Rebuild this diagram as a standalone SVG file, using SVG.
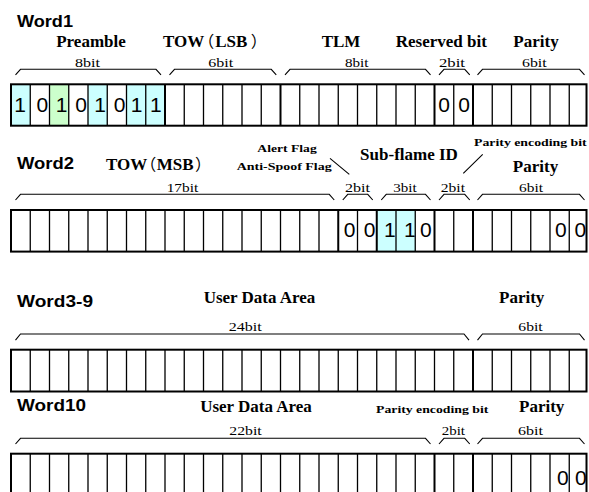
<svg xmlns="http://www.w3.org/2000/svg" width="589" height="492" viewBox="0 0 589 492">
<defs>
<style>
.w{font-family:"Liberation Sans",Arial,sans-serif;font-weight:bold;font-size:17px;fill:#000}
.t{font-family:"Liberation Serif","Noto Sans CJK JP",serif;font-weight:bold;font-size:17px;fill:#000}
.p{font-family:"Noto Sans CJK JP",sans-serif;font-weight:normal;font-size:16px;font-feature-settings:"palt";fill:#000}
.s{font-family:"Liberation Serif",serif;font-weight:bold;font-size:11px;fill:#000}
.b{font-family:"Liberation Serif",serif;font-size:13.5px;fill:#000}
.d{font-family:"Liberation Sans",Arial,sans-serif;font-size:21px;fill:#000;text-anchor:middle}
.m{text-anchor:middle}
.box{fill:none;stroke:#000;stroke-width:2}
.thin{fill:none;stroke:#000;stroke-width:1.3}
.thick{fill:none;stroke:#000;stroke-width:2}
.br{fill:none;stroke:#000;stroke-width:1.1}
.cy{fill:#ccffff}
.gr{fill:#ccffcc}
</style>
</defs>
<rect width="589" height="492" fill="#fff"/>

<g id="word1">
<text class="w" x="17" y="27" textLength="56" lengthAdjust="spacingAndGlyphs">Word1</text>
<text class="t m" x="91" y="47">Preamble</text>
<text class="t" x="163" y="47">TOW<tspan class="p" dx="1.5">（</tspan><tspan dx="1.5">LSB</tspan><tspan class="p" dx="4">）</tspan></text>
<text class="t m" x="341" y="47">TLM</text>
<text class="t m" x="441.3" y="47">Reserved bit</text>
<text class="t m" x="536" y="47">Parity</text>
<text class="b" x="75" y="66.5" textLength="25" lengthAdjust="spacingAndGlyphs">8bit</text>
<text class="b" x="208.3" y="66.5" textLength="25" lengthAdjust="spacingAndGlyphs">6bit</text>
<text class="b" x="345" y="66.5" textLength="23.5" lengthAdjust="spacingAndGlyphs">8bit</text>
<text class="b" x="439" y="66.5" textLength="26" lengthAdjust="spacingAndGlyphs">2bit</text>
<text class="b" x="522" y="66.5" textLength="24.7" lengthAdjust="spacingAndGlyphs">6bit</text>
<path class="br" d="M15.5 74.8L20.5 69.3H156L161 74.8M169.5 74.8L174.5 69.3H271.25L276.25 74.8M285 74.8L290 69.3H425.5L430.5 74.8M439 74.8L444 69.3H464.75L469.75 74.8M477.5 74.8L482.5 69.3H579.5L584.5 74.8"/>
<rect class="cy" x="11" y="84.3" width="19.25" height="41.4"/>
<rect class="gr" x="49.5" y="84.3" width="19.25" height="41.4"/>
<rect class="cy" x="88" y="84.3" width="19.25" height="41.4"/>
<rect class="cy" x="126.5" y="84.3" width="38.5" height="41.4"/>
<path class="thin" d="M30.25 84.3V125.7M49.5 84.3V125.7M68.75 84.3V125.7M88 84.3V125.7M107.25 84.3V125.7M126.5 84.3V125.7M145.75 84.3V125.7M184.25 84.3V125.7M203.5 84.3V125.7M222.75 84.3V125.7M242 84.3V125.7M261.25 84.3V125.7M299.75 84.3V125.7M319 84.3V125.7M338.25 84.3V125.7M357.5 84.3V125.7M376.75 84.3V125.7M396 84.3V125.7M415.25 84.3V125.7M453.75 84.3V125.7M492.25 84.3V125.7M511.5 84.3V125.7M530.75 84.3V125.7M550 84.3V125.7M569.25 84.3V125.7"/>
<path class="thick" d="M165 84.3V125.7M280.5 84.3V125.7M434.5 84.3V125.7M473 84.3V125.7"/>
<rect class="box" x="11" y="84.3" width="575.5" height="41.4"/>
<text class="d" x="20" y="111.7">1</text>
<text class="d" x="42.3" y="111.7">0</text>
<text class="d" x="61.6" y="111.7">1</text>
<text class="d" x="81.2" y="111.7">0</text>
<text class="d" x="100" y="111.7">1</text>
<text class="d" x="119.5" y="111.7">0</text>
<text class="d" x="136.6" y="111.7">1</text>
<text class="d" x="155.8" y="111.7">1</text>
<text class="d" x="444.2" y="111.7">0</text>
<text class="d" x="464.2" y="111.7">0</text>
</g>

<g id="word2">
<text class="w" x="17" y="168.5" textLength="57" lengthAdjust="spacingAndGlyphs">Word2</text>
<text class="t" x="106" y="170">TOW<tspan class="p" dx="0.5">（</tspan><tspan dx="1">MSB</tspan><tspan class="p" dx="2">）</tspan></text>
<text class="s" x="257.3" y="151.7" textLength="59.4" lengthAdjust="spacingAndGlyphs">Alert Flag</text>
<text class="s" x="236.7" y="170" textLength="95" lengthAdjust="spacingAndGlyphs">Anti-Spoof Flag</text>
<text class="t m" x="409" y="160">Sub-flame ID</text>
<text class="s" x="474" y="145.7" textLength="112.7" lengthAdjust="spacingAndGlyphs">Parity encoding bit</text>
<text class="t m" x="535.5" y="171.7">Parity</text>
<text class="b" x="166.7" y="191.7" textLength="31.6" lengthAdjust="spacingAndGlyphs">17bit</text>
<text class="b" x="345" y="191.7" textLength="25" lengthAdjust="spacingAndGlyphs">2bit</text>
<text class="b" x="393.3" y="191.7" textLength="23.4" lengthAdjust="spacingAndGlyphs">3bit</text>
<text class="b" x="440.7" y="191.7" textLength="24.3" lengthAdjust="spacingAndGlyphs">2bit</text>
<text class="b" x="519" y="191.7" textLength="24" lengthAdjust="spacingAndGlyphs">6bit</text>
<path class="br" d="M15.5 200L20.5 194.3H329.25L334.25 200M342.75 200L347.75 194.3H367.75L372.75 200M381.25 200L386.25 194.3H425.5L430.5 200M439 200L444 194.3H464.75L469.75 200M477.5 200L482.5 194.3H579.5L584.5 200"/>
<rect class="cy" x="376.75" y="210" width="38.5" height="41.6"/>
<path class="thin" d="M30.25 210V251.6M49.5 210V251.6M68.75 210V251.6M88 210V251.6M107.25 210V251.6M126.5 210V251.6M145.75 210V251.6M165 210V251.6M184.25 210V251.6M203.5 210V251.6M222.75 210V251.6M242 210V251.6M261.25 210V251.6M280.5 210V251.6M299.75 210V251.6M319 210V251.6M357.5 210V251.6M396 210V251.6M415.25 210V251.6M453.75 210V251.6M492.25 210V251.6M511.5 210V251.6M530.75 210V251.6M550 210V251.6M569.25 210V251.6"/>
<path class="thick" d="M338.25 210V251.6M376.75 210V251.6M434.5 210V251.6M473 210V251.6"/>
<rect class="box" x="11" y="210" width="575.5" height="41.6"/>
<text class="d" x="349.5" y="236.7">0</text>
<text class="d" x="369.5" y="236.7">0</text>
<text class="d" x="389.8" y="236.7">1</text>
<text class="d" x="409.8" y="236.7">1</text>
<text class="d" x="425.8" y="236.7">0</text>
<text class="d" x="560.8" y="236.7">0</text>
<text class="d" x="580.3" y="236.7">0</text>
</g>

<g id="word3-9">
<text class="w" x="17" y="306.5" textLength="76" lengthAdjust="spacingAndGlyphs">Word3-9</text>
<text class="t m" x="259.5" y="303.3">User Data Area</text>
<text class="t m" x="521.7" y="303.3">Parity</text>
<text class="b" x="228.7" y="330.7" textLength="33" lengthAdjust="spacingAndGlyphs">24bit</text>
<text class="b" x="518.3" y="330.7" textLength="24.4" lengthAdjust="spacingAndGlyphs">6bit</text>
<path class="br" d="M15.5 340.2L20.5 334H464L469 340.2M477.5 340.2L482.5 334H579.5L584.5 340.2"/>
<path class="thin" d="M30.25 349.7V391.5M49.5 349.7V391.5M68.75 349.7V391.5M88 349.7V391.5M107.25 349.7V391.5M126.5 349.7V391.5M145.75 349.7V391.5M165 349.7V391.5M184.25 349.7V391.5M203.5 349.7V391.5M222.75 349.7V391.5M242 349.7V391.5M261.25 349.7V391.5M280.5 349.7V391.5M299.75 349.7V391.5M319 349.7V391.5M338.25 349.7V391.5M357.5 349.7V391.5M376.75 349.7V391.5M396 349.7V391.5M415.25 349.7V391.5M434.5 349.7V391.5M453.75 349.7V391.5M492.25 349.7V391.5M511.5 349.7V391.5M530.75 349.7V391.5M550 349.7V391.5M569.25 349.7V391.5"/>
<path class="thick" d="M473 349.7V391.5"/>
<rect class="box" x="11" y="349.7" width="575.5" height="41.8"/>
</g>

<g id="word10">
<text class="w" x="17" y="411" textLength="69" lengthAdjust="spacingAndGlyphs">Word10</text>
<text class="t m" x="256" y="411.7">User Data Area</text>
<text class="s" x="376" y="413.3" textLength="112.3" lengthAdjust="spacingAndGlyphs">Parity encoding bit</text>
<text class="t m" x="541.7" y="411.7">Parity</text>
<text class="b" x="229.3" y="434.5" textLength="32.4" lengthAdjust="spacingAndGlyphs">22bit</text>
<text class="b" x="441.7" y="434.5" textLength="23.3" lengthAdjust="spacingAndGlyphs">2bit</text>
<text class="b" x="518" y="434.5" textLength="25" lengthAdjust="spacingAndGlyphs">6bit</text>
<path class="br" d="M15.5 444L20.5 438.3H425.5L430.5 444M439 444L444 438.3H464.75L469.75 444M477.5 444L482.5 438.3H579.5L584.5 444"/>
<path class="thin" d="M30.25 453.7V495M49.5 453.7V495M68.75 453.7V495M88 453.7V495M107.25 453.7V495M126.5 453.7V495M145.75 453.7V495M165 453.7V495M184.25 453.7V495M203.5 453.7V495M222.75 453.7V495M242 453.7V495M261.25 453.7V495M280.5 453.7V495M299.75 453.7V495M319 453.7V495M338.25 453.7V495M357.5 453.7V495M376.75 453.7V495M396 453.7V495M415.25 453.7V495M453.75 453.7V495M492.25 453.7V495M511.5 453.7V495M530.75 453.7V495M550 453.7V495M569.25 453.7V495"/>
<path class="thick" d="M434.5 453.7V495M473 453.7V495"/>
<rect class="box" x="11" y="453.7" width="575.5" height="41.8"/>
<text class="d" x="562.8" y="485">0</text>
<text class="d" x="580.8" y="485">0</text>
</g>

<g id="connectors">
<path class="br" d="M330 158.3L349.3 174.3M482.7 154.3L463.3 173.3"/>
</g>
</svg>
